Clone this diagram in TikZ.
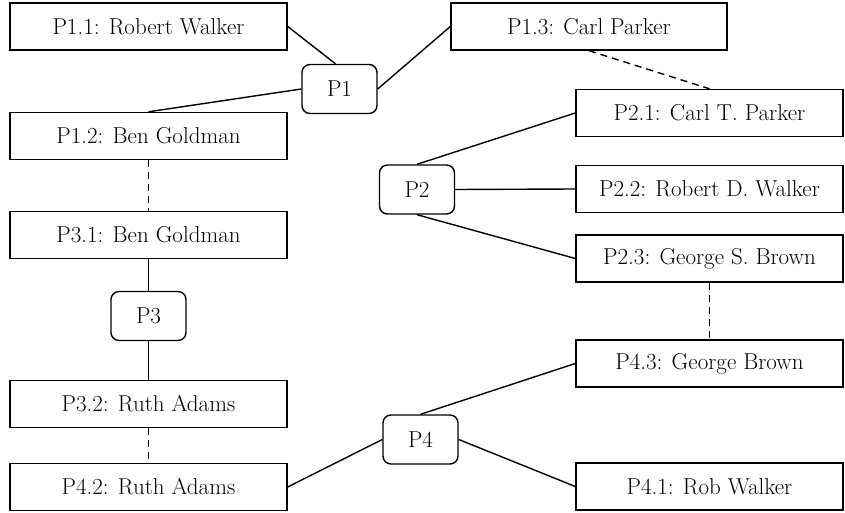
\documentclass[tikz,border=0pt]{standalone}
\begin{document}
\begin{tikzpicture}[x=1pt,y=-1pt,
  every node/.style={font=\rmfamily\fontsize{23}{27}\selectfont, inner sep=0pt, line width=1.4pt},
  lbox/.style={draw, rectangle, minimum width=277pt, minimum height=47pt},
  rbox/.style={draw, rectangle, minimum width=267pt, minimum height=47pt},
  pbox/.style={draw, rectangle, rounded corners=8pt, minimum width=75pt, minimum height=49pt},
  link/.style={line width=1.4pt},
  same/.style={line width=1.4pt, dash pattern=on 7pt off 5pt}]
\useasboundingbox (0,0) rectangle (845,513);
\node[lbox] (p11) at (148.5,26.5) {P1.1: Robert Walker};
\node[lbox, minimum width=276pt] (p13) at (589,26.5) {P1.3: Carl Parker};
\node[lbox] (p12) at (148.5,136) {P1.2: Ben Goldman};
\node[lbox] (p31) at (148.5,235) {P3.1: Ben Goldman};
\node[lbox] (p32) at (148.5,404) {P3.2: Ruth Adams};
\node[lbox] (p42) at (148.5,487) {P4.2: Ruth Adams};
\node[rbox] (p21) at (709.5,113) {P2.1: Carl T. Parker};
\node[rbox] (p22) at (709.5,189) {P2.2: Robert D. Walker};
\node[rbox] (p23) at (709.5,258.5) {P2.3: George S. Brown};
\node[rbox] (p43) at (709.5,363.5) {P4.3: George Brown};
\node[rbox] (p41) at (709.5,486.5) {P4.1: Rob Walker};
\node[pbox] (p1) at (339.5,89) {P1};
\node[pbox] (p2) at (417,189.5) {P2};
\node[pbox] (p3) at (148.5,316) {P3};
\node[pbox] (p4) at (420.5,439.5) {P4};
\draw[link] (p11.east) -- ([xshift=-4pt]p1.north);
\draw[link] (p12.north) -- (p1.west);
\draw[link] (p1.east) -- (p13.west);
\draw[same] (p13.south) -- (p21.north);
\draw[link] (p2.north) -- (p21.west);
\draw[link] (p2.east) -- (p22.west);
\draw[link] (p2.south) -- (p23.west);
\draw[same] (p23.south) -- (p43.north);
\draw[link] (p4.north) -- (p43.west);
\draw[link] (p4.east) -- (p41.west);
\draw[link] (p42.east) -- (p4.west);
\draw[same] (p12.south) -- (p31.north);
\draw[link] (p31.south) -- (p3.north);
\draw[link] (p3.south) -- (p32.north);
\draw[same] (p32.south) -- (p42.north);
\end{tikzpicture}
\end{document}
